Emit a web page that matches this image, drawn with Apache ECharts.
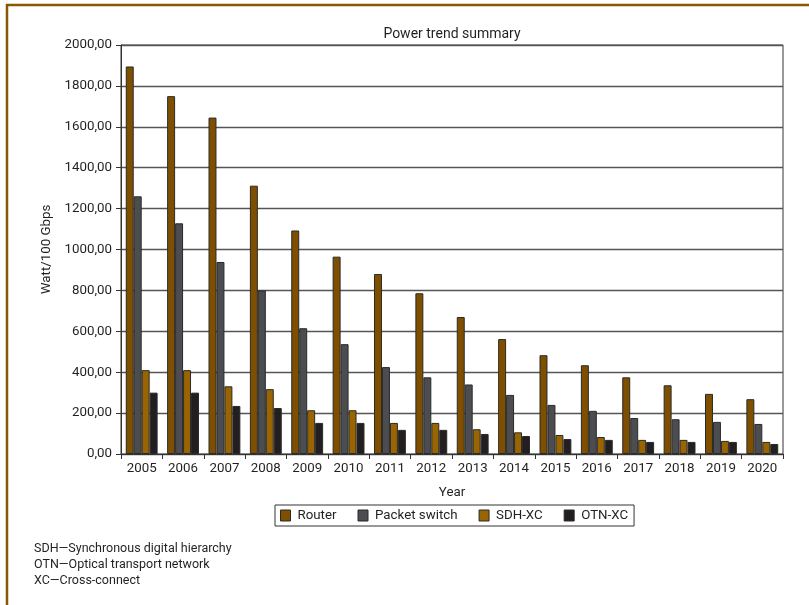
<!DOCTYPE html>
<html>
<head>
<meta charset="utf-8">
<script src="https://cdn.jsdelivr.net/npm/echarts@6/dist/echarts.min.js"></script>
<style>html,body{margin:0;padding:0;background:#fff}#c{width:809px;height:605px}</style>
</head>
<body>
<div id="c"></div>
<script>
var years = ['2005','2006','2007','2008','2009','2010','2011','2012','2013','2014','2015','2016','2017','2018','2019','2020'];
var router = [1895,1750,1645,1312,1093,965,880,786,670,562,483,434,375,336,294,268];
var packetSwitch = [1260,1128,939,800,615,537,425,375,340,289,240,211,176,170,157,147];
var sdhXc = [410,410,331,317,214,214,152,152,121,106,93,83,69,69,64,59];
var otnXc = [300,300,235,225,152,152,118,118,98,88,73,69,59,59,59,49];
var footnotes = ['SDH\u2014Synchronous digital hierarchy','OTN\u2014Optical transport network','XC\u2014Cross-connect'];

var FONT = 'Roboto';
var FS = 13.3;
var chart = echarts.init(document.getElementById('c'));
function bar(name, data, color){
  return {name:name, type:'bar', data:data, barGap:'0%', barCategoryGap:'23%',
    itemStyle:{color:color, borderColor:'#2a2a2a', borderWidth:1}};
}
chart.setOption({
  animation:false,
  textStyle:{fontFamily:FONT},
  title:{text:'Power trend summary', left:447, top:22, textAlign:'center',
    textStyle:{fontSize:14, fontWeight:'normal', color:'#231f20', fontFamily:FONT}},
  grid:{left:121, right:26, top:45, bottom:151, show:true, borderColor:'#333', borderWidth:1, backgroundColor:'transparent'},
  legend:{left:275, top:505, itemWidth:10, itemHeight:11, itemGap:21, borderColor:'#333', borderWidth:1,
    padding:[4,6,4,5], icon:'rect',
    textStyle:{fontSize:FS, color:'#231f20', fontFamily:FONT, padding:[0,0,0,2]},
    itemStyle:{borderColor:'#2a2a2a', borderWidth:1}},
  xAxis:{type:'category', data:years, name:'Year', nameLocation:'middle', nameGap:32,
    nameTextStyle:{fontSize:FS, color:'#231f20', fontFamily:FONT},
    axisLine:{lineStyle:{color:'#333', width:1}},
    axisTick:{show:true, length:5, lineStyle:{color:'#333'}},
    axisLabel:{fontSize:FS, color:'#231f20', margin:8, fontFamily:FONT}},
  yAxis:{type:'value', min:0, max:2000, interval:200, name:'Watt/100 Gbps', nameLocation:'middle', nameRotate:90, nameGap:66,
    nameTextStyle:{fontSize:FS, color:'#231f20', fontFamily:FONT},
    axisLine:{show:true, lineStyle:{color:'#333', width:1}},
    axisTick:{show:true, length:5, lineStyle:{color:'#333'}},
    splitLine:{lineStyle:{color:'#555', width:1.3}},
    axisLabel:{fontSize:FS, color:'#231f20', margin:9, fontFamily:FONT,
      formatter:function(v){return v.toFixed(2).replace('.',',');}}},
  series:[bar('Router',router,'#7f4f00'), bar('Packet switch',packetSwitch,'#4b4d50'), bar('SDH-XC',sdhXc,'#9a6500'), bar('OTN-XC',otnXc,'#231f20')],
  graphic:[
    {type:'rect', shape:{x:7, y:5, width:900, height:700}, style:{fill:'none', stroke:'#8a5800', lineWidth:2.5}, silent:true},
    {type:'text', left:34, top:541, style:{text:footnotes.join('\n'), font:'12.5px Roboto', fill:'#231f20', lineHeight:16}}
  ]
});
</script>
</body>
</html>
